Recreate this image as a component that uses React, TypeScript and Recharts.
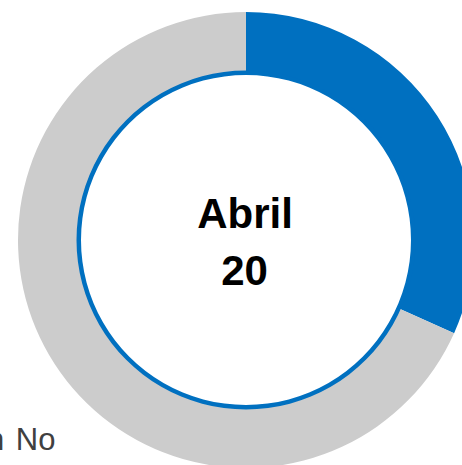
import { PieChart, Pie, Cell, Label } from "recharts";

const categories = ["Sí", "No"];
const values = [31.7, 68.3];
const colors = ["#0070C0", "#CCCCCC"];
const centerLines = ["Abril", "20"];
const legendText = "n No";

const data = categories.map((name, i) => ({ name, value: values[i] }));
const ring = [{ name: "ring", value: 1 }];

function CenterLabel(props: any) {
  const { viewBox } = props;
  const cx = viewBox?.cx ?? 246;
  const cy = viewBox?.cy ?? 240;
  return (
    <text
      x={cx}
      y={cy}
      textAnchor="middle"
      fill="#000"
      style={{ fontFamily: "'Liberation Sans', Arial, sans-serif", fontWeight: 700, fontSize: 42 }}
    >
      <tspan x={cx - 1} y={cy - 12}>{centerLines[0]}</tspan>
      <tspan x={cx - 1.5} y={cy + 45}>{centerLines[1]}</tspan>
    </text>
  );
}

export default function App() {
  return (
    <div
      style={{
        position: "fixed",
        top: 0,
        left: 0,
        width: 462,
        height: 465,
        overflow: "hidden",
        background: "#fff",
      }}
    >
      <PieChart width={492} height={480} margin={{ top: 0, right: 0, bottom: 0, left: 0 }}>
        <Pie
          data={data}
          dataKey="value"
          cx={246}
          cy={240}
          innerRadius={167}
          outerRadius={228}
          startAngle={90}
          endAngle={-270}
          stroke="none"
          isAnimationActive={false}
        >
          {data.map((d, i) => (
            <Cell key={d.name} fill={colors[i]} />
          ))}
        </Pie>
        {/* thin blue ring around the white centre, drawn on top to hide the seam */}
        <Pie
          data={ring}
          dataKey="value"
          cx={246}
          cy={240}
          innerRadius={165}
          outerRadius={169.5}
          startAngle={90}
          endAngle={-270}
          fill="#0070C0"
          stroke="none"
          isAnimationActive={false}
        >
          <Label content={<CenterLabel />} position="center" />
        </Pie>
      </PieChart>
      <div
        style={{
          position: "absolute",
          left: -13,
          top: 422,
          fontFamily: "'Liberation Sans', Arial, sans-serif",
          fontSize: 31,
          wordSpacing: 3,
          color: "#404040",
          whiteSpace: "nowrap",
        }}
      >
        {legendText}
      </div>
    </div>
  );
}
